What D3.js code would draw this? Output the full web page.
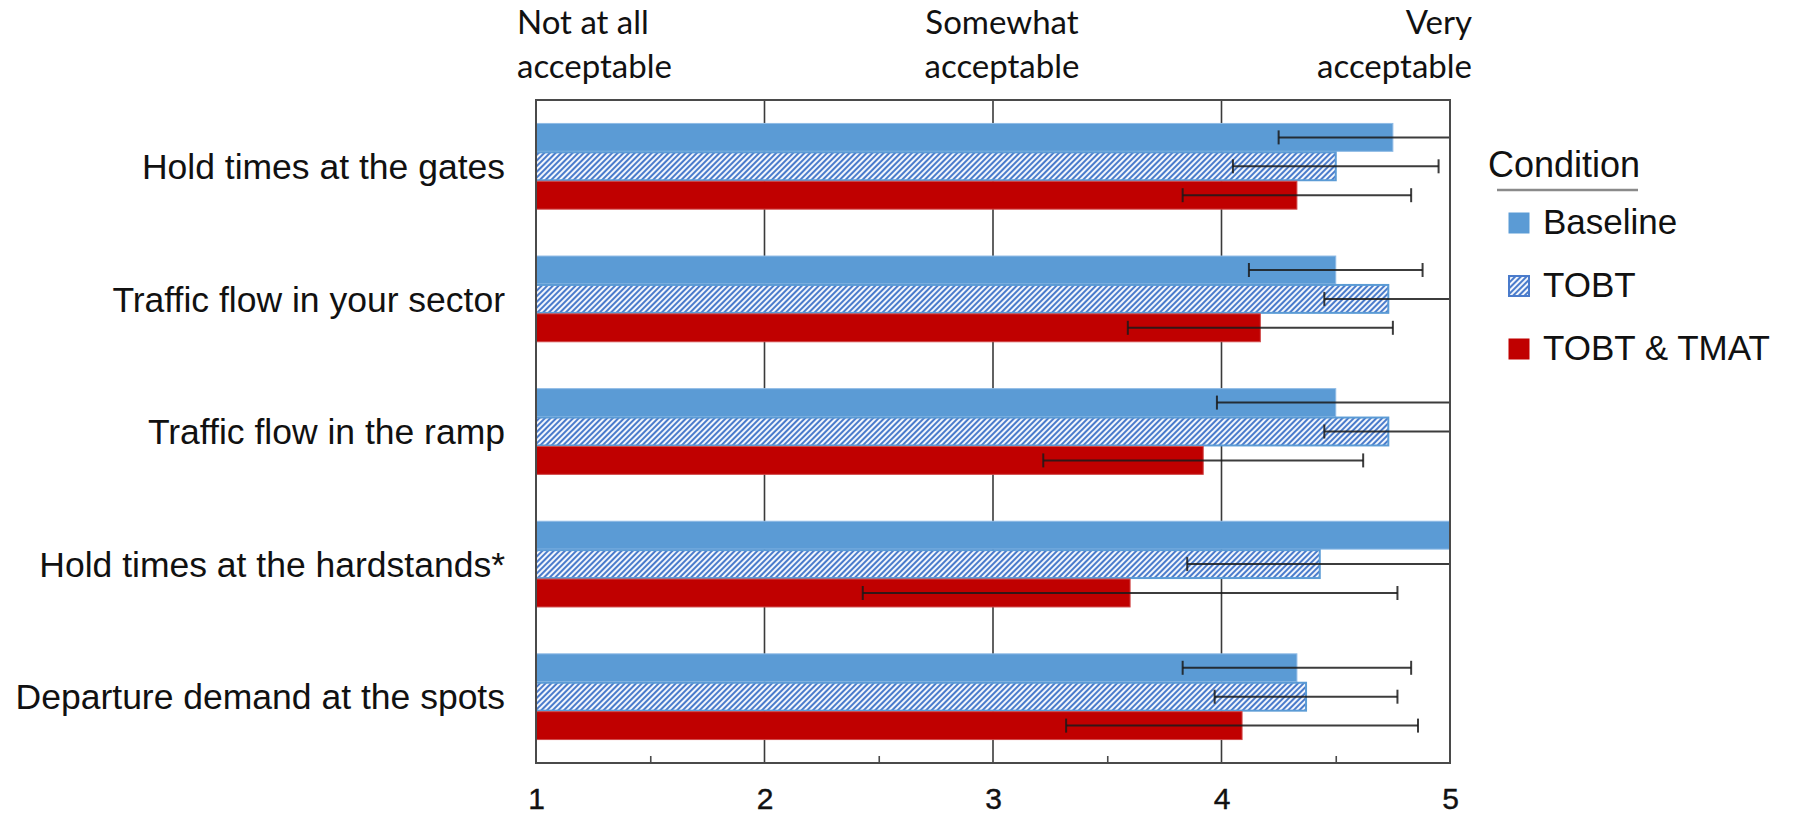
<!DOCTYPE html>
<html>
<head>
<meta charset="utf-8">
<script src="https://cdn.jsdelivr.net/npm/d3@7"></script>
<style>
  html, body { margin: 0; padding: 0; background: #fff; }
  svg { display: block; }
</style>
</head>
<body>
<svg id="chart" width="1796" height="815"></svg>
<script>
// ---- data ----
const categories = [
  "Hold times at the gates",
  "Traffic flow in your sector",
  "Traffic flow in the ramp",
  "Hold times at the hardstands*",
  "Departure demand at the spots"
];
const seriesNames = ["Baseline", "TOBT", "TOBT & TMAT"];
const baselineValues = [4.75, 4.50, 4.50, 5.00, 4.33];
const baselineErrors = [0.50, 0.38, 0.52, 0.00, 0.50];
const tobtValues     = [4.50, 4.73, 4.73, 4.43, 4.37];
const tobtErrors     = [0.45, 0.28, 0.28, 0.58, 0.40];
const tmatValues     = [4.33, 4.17, 3.92, 3.60, 4.09];
const tmatErrors     = [0.50, 0.58, 0.70, 1.17, 0.77];
const xTickValues = [1, 2, 3, 4, 5];
const xMinorTicks = [1.5, 2.5, 3.5, 4.5];
const scaleLabels = [
  {value: 1, lines: ["Not at all", "acceptable"]},
  {value: 3, lines: ["Somewhat", "acceptable"]},
  {value: 5, lines: ["Very", "acceptable"]}
];
const legendTitle = "Condition";

// ---- layout ----
const svg = d3.select("#chart");
const plot = {left: 536, right: 1450, top: 100, bottom: 763};

const x = d3.scaleLinear().domain([1, 5]).range([plot.left, plot.right]);
const y0 = d3.scaleBand().domain(categories).range([plot.top, plot.bottom])
  .paddingInner(0.346).paddingOuter(0.173);
const y1 = d3.scaleBand().domain(seriesNames).range([0, y0.bandwidth()]);

const defs = svg.append("defs");
const pat = defs.append("pattern")
  .attr("id", "hatch").attr("patternUnits", "userSpaceOnUse")
  .attr("width", 4).attr("height", 4)
  .attr("patternTransform", "rotate(45)");
pat.append("rect").attr("width", 4).attr("height", 4).attr("fill", "#f2f6fc");
pat.append("rect").attr("width", 2).attr("height", 4).attr("fill", "#4a7bcb");

defs.append("clipPath").attr("id", "plotclip").append("rect")
  .attr("x", plot.left).attr("y", plot.top)
  .attr("width", plot.right - plot.left).attr("height", plot.bottom - plot.top);

const styles = {
  "Baseline": {fill: "#5B9BD5", stroke: "#8fbbe6"},
  "TOBT": {fill: "url(#hatch)", stroke: "#5B9BD5"},
  "TOBT & TMAT": {fill: "#C00000", stroke: "#d04848"}
};

const rows = [];
categories.forEach((c, i) => {
  rows.push({cat: c, series: "Baseline", v: baselineValues[i], e: baselineErrors[i]});
  rows.push({cat: c, series: "TOBT", v: tobtValues[i], e: tobtErrors[i]});
  rows.push({cat: c, series: "TOBT & TMAT", v: tmatValues[i], e: tmatErrors[i]});
});

// gridlines
svg.append("g").selectAll("line").data([2, 3, 4]).join("line")
  .attr("x1", d => x(d)).attr("x2", d => x(d))
  .attr("y1", plot.top).attr("y2", plot.bottom)
  .attr("stroke", "#3a3a3a").attr("stroke-width", 1.6);

// bars
svg.append("g").selectAll("rect").data(rows).join("rect")
  .attr("x", x(1))
  .attr("y", d => y0(d.cat) + y1(d.series) + 0.5)
  .attr("width", d => x(d.v) - x(1))
  .attr("height", y1.bandwidth() - 1)
  .attr("fill", d => styles[d.series].fill)
  .attr("stroke", d => styles[d.series].stroke)
  .attr("stroke-width", d => d.series === "TOBT" ? 2 : 1);

// error bars
const eg = svg.append("g").attr("clip-path", "url(#plotclip)")
  .attr("stroke", "#1a1a1a").attr("stroke-opacity", 0.85).attr("stroke-width", 2);
rows.filter(d => d.e > 0).forEach(d => {
  const cy = y0(d.cat) + y1(d.series) + y1.bandwidth() / 2;
  const xa = x(d.v - d.e), xb = x(d.v + d.e);
  eg.append("line").attr("x1", xa).attr("x2", xb).attr("y1", cy).attr("y2", cy);
  [xa, xb].forEach(xx => {
    eg.append("line").attr("x1", xx).attr("x2", xx).attr("y1", cy - 7).attr("y2", cy + 7);
  });
});

// plot frame
svg.append("rect")
  .attr("x", plot.left).attr("y", plot.top)
  .attr("width", plot.right - plot.left).attr("height", plot.bottom - plot.top)
  .attr("fill", "none").attr("stroke", "#4a4a4a").attr("stroke-width", 2);

// bottom axis
const axis = svg.append("g").attr("transform", `translate(0,${plot.bottom})`)
  .call(d3.axisBottom(x).tickValues(xTickValues).tickSize(0).tickPadding(25)
    .tickFormat(d3.format("d")));
axis.select(".domain").remove();
axis.selectAll("text").attr("font-family", "Liberation Sans, Arial, sans-serif")
  .attr("font-size", 30).attr("fill", "#111")
  .attr("stroke", "#111").attr("stroke-width", 0.4);

const minor = svg.append("g").attr("transform", `translate(0,${plot.bottom})`)
  .call(d3.axisBottom(x).tickValues(xMinorTicks).tickSize(-7).tickFormat(""));
minor.select(".domain").remove();
minor.selectAll("line").attr("stroke", "#4a4a4a").attr("stroke-width", 1.6);

// category labels
svg.append("g").selectAll("text").data(categories).join("text")
  .attr("x", plot.left - 31)
  .attr("y", d => y0(d) + y0.bandwidth() / 2 + 0.36 * 35.5)
  .attr("text-anchor", "end")
  .attr("font-family", "Liberation Sans, Arial, sans-serif")
  .attr("font-size", 35.5).attr("fill", "#111")
  .text(d => d);

// scale anchor labels at the top
const anchorCfg = {1: {dx: -19, anchor: "start"}, 3: {dx: 9, anchor: "middle"}, 5: {dx: 22, anchor: "end"}};
const sl = svg.append("g").selectAll("text").data(scaleLabels).join("text")
  .attr("font-family", "Lato, 'Open Sans', sans-serif")
  .attr("font-size", 33).attr("fill", "#111")
  .attr("text-anchor", d => anchorCfg[d.value].anchor);
sl.each(function(d) {
  const t = d3.select(this);
  d.lines.forEach((ln, i) => {
    t.append("tspan").attr("x", x(d.value) + anchorCfg[d.value].dx)
      .attr("y", 34 + i * 44).text(ln);
  });
});

// legend
const lg = svg.append("g").attr("font-family", "Liberation Sans, Arial, sans-serif").attr("fill", "#111");
lg.append("text").attr("x", 1488).attr("y", 177).attr("font-size", 36).text(legendTitle);
lg.append("line").attr("x1", 1497).attr("x2", 1638).attr("y1", 190).attr("y2", 190)
  .attr("stroke", "#8a8a8a").attr("stroke-width", 2.5);
const li = lg.selectAll("g.item").data(seriesNames).join("g")
  .attr("transform", (d, i) => `translate(0,${234 + i * 63})`);
li.append("rect").attr("x", 1509).attr("y", -21).attr("width", 20).attr("height", 20)
  .attr("fill", d => styles[d].fill)
  .attr("stroke", d => d === "TOBT" ? "#4a7bcb" : styles[d].fill).attr("stroke-width", d => d === "TOBT" ? 2 : 1);
li.append("text").attr("x", 1543).attr("y", 0).attr("font-size", 35).text(d => d);
</script>
</body>
</html>
